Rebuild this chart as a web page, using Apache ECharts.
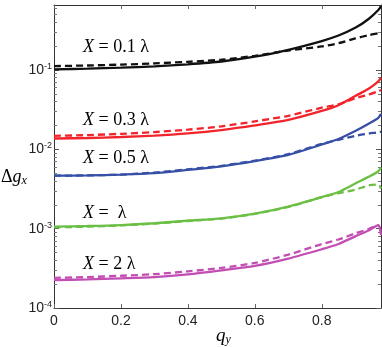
<!DOCTYPE html>
<html>
<head>
<meta charset="utf-8">
<script src="https://cdn.jsdelivr.net/npm/echarts@6/dist/echarts.min.js"></script>
<style>
  html, body { margin: 0; padding: 0; background: #fff; }
  #chart { width: 382px; height: 347px; }
</style>
</head>
<body>
<div id="chart"></div>
<script>
// q_y sample positions
const qy = [0, 0.1, 0.2, 0.3, 0.4, 0.5, 0.6, 0.7, 0.8, 0.85, 0.9, 0.94, 0.969, 0.977];

// X = 0.1 lambda
const g01Solid  = [0.102, 0.104, 0.107, 0.111, 0.118, 0.128, 0.147, 0.18, 0.232, 0.272, 0.34, 0.44, 0.57, 0.64];
const g01Dashed = [0.112, 0.114, 0.117, 0.121, 0.127, 0.135, 0.151, 0.176, 0.198, 0.218, 0.25, 0.275, 0.29, 0.295];
// X = 0.3 lambda
const g03Solid  = [0.0137, 0.0139, 0.0143, 0.0149, 0.0159, 0.0175, 0.02, 0.0235, 0.0305, 0.036, 0.047, 0.058, 0.072, 0.08];
const g03Dashed = [0.0148, 0.0151, 0.0157, 0.0165, 0.0177, 0.0195, 0.0225, 0.0265, 0.0335, 0.037, 0.044, 0.049, 0.054, 0.056];
// X = 0.5 lambda
const g05Solid  = [0.00465, 0.0047, 0.0048, 0.005, 0.0055, 0.0061, 0.0071, 0.0085, 0.0115, 0.0135, 0.017, 0.021, 0.025, 0.028];
const g05Dashed = [0.00465, 0.0047, 0.0048, 0.0051, 0.0056, 0.0062, 0.0072, 0.0087, 0.0117, 0.0132, 0.0148, 0.0158, 0.0164, 0.0167];
// X = lambda
const g1Solid   = [0.00106, 0.00108, 0.00111, 0.00117, 0.00126, 0.00135, 0.00155, 0.0019, 0.0025, 0.0029, 0.0037, 0.0045, 0.0053, 0.0059];
const g1Dashed  = [0.00104, 0.00106, 0.0011, 0.00116, 0.00125, 0.00134, 0.00154, 0.00188, 0.0025, 0.0028, 0.0031, 0.0035, 0.0036, 0.0032];
// X = 2 lambda
const g2Solid   = [0.000225, 0.000229, 0.000236, 0.000245, 0.000265, 0.000298, 0.00034, 0.00042, 0.00055, 0.00064, 0.0008, 0.00095, 0.00111, 0.00083];
const g2Dashed  = [0.00024, 0.000245, 0.000255, 0.000267, 0.00029, 0.00032, 0.00037, 0.00047, 0.00064, 0.00073, 0.00087, 0.00099, 0.0011, 0.0009];

const xTicks = [0, 0.2, 0.4, 0.6, 0.8];
const yMajor = [1e-4, 1e-3, 1e-2, 1e-1];

const yMinor = [];
yMajor.forEach((p) => {
  for (let m = 2; m <= 9; m++) {
    const v = +(m * p).toPrecision(3);
    if (v < 0.66) yMinor.push(v);
  }
});

const curves = [
  { solid: g01Solid, dashed: g01Dashed, color: "#111111" },
  { solid: g03Solid, dashed: g03Dashed, color: "#f2232b" },
  { solid: g05Solid, dashed: g05Dashed, color: "#3750a6" },
  { solid: g1Solid, dashed: g1Dashed, color: "#6cbf45" },
  { solid: g2Solid, dashed: g2Dashed, color: "#c24eb3" },
];

const labels = [
  { text: "0.1 λ", y: 48 },
  { text: "0.3 λ", y: 121 },
  { text: "0.5 λ", y: 159 },
  { text: " λ", y: 214 },
  { text: "2 λ", y: 265 },
];

const chart = echarts.init(document.getElementById("chart"));

const pairs = (vals) => qy.map((q, i) => [q, vals[i]]);

const series = [];
curves.forEach((c) => {
  ["solid", "dashed"].forEach((kind) => {
    series.push({
      type: "line",
      data: pairs(c[kind]),
      xAxisIndex: 0,
      yAxisIndex: 0,
      showSymbol: false,
      smooth: 0.25,
      silent: true,
      lineStyle: {
        color: c.color,
        width: 2.3,
        type: kind === "solid" ? "solid" : [7, 4],
      },
      z: kind === "solid" ? 3 : 4,
    });
  });
});

const frameColor = "#333";
const tickFont = { fontFamily: "Liberation Sans", fontSize: 14, color: "#222" };

const xBase = { type: "value", min: 0, max: 0.977, splitLine: { show: false } };
const yBase = { type: "log", logBase: 10, min: 1e-4, max: 0.66, splitLine: { show: false } };

const option = {
  animation: false,
  grid: { left: 54, right: 1, top: 5, bottom: 39 },
  xAxis: [
    {
      ...xBase,
      position: "bottom",
      axisLine: { show: true, lineStyle: { color: frameColor, width: 1 } },
      axisTick: { show: true, inside: true, length: 4, customValues: xTicks, lineStyle: { color: "#666" } },
      axisLabel: { ...tickFont, margin: 6, customValues: xTicks, formatter: (v) => String(v) },
    },
    {
      ...xBase,
      position: "top",
      axisLine: { show: true, lineStyle: { color: frameColor, width: 1 } },
      axisTick: { show: true, inside: true, length: 4, customValues: xTicks, lineStyle: { color: "#666" } },
      axisLabel: { show: false },
    },
  ],
  yAxis: [
    {
      ...yBase,
      position: "left",
      axisLine: { show: true, lineStyle: { color: frameColor, width: 1 } },
      axisTick: { show: true, inside: true, length: 5, customValues: yMajor, lineStyle: { color: "#555" } },
      axisLabel: {
        margin: 2,
        customValues: yMajor,
        formatter: (v) => "{b|10}{s|" + Math.round(Math.log10(v)) + "}",
        rich: {
          b: { ...tickFont, lineHeight: 16 },
          s: { fontFamily: "Liberation Sans", fontSize: 9, color: "#222", verticalAlign: "top", lineHeight: 16 },
        },
      },
    },
    {
      ...yBase,
      position: "left",
      axisLine: { show: false },
      axisTick: { show: true, inside: true, length: 3, customValues: yMinor, lineStyle: { color: "#777" } },
      axisLabel: { show: false },
    },
    {
      ...yBase,
      position: "right",
      axisLine: { show: true, lineStyle: { color: frameColor, width: 1 } },
      axisTick: { show: true, inside: true, length: 5, customValues: yMajor, lineStyle: { color: "#555" } },
      axisLabel: { show: false },
    },
    {
      ...yBase,
      position: "right",
      axisLine: { show: false },
      axisTick: { show: true, inside: true, length: 3, customValues: yMinor, lineStyle: { color: "#777" } },
      axisLabel: { show: false },
    },
  ],
  graphic: [
    ...labels.map((l) => ({
      type: "text",
      left: 83,
      top: l.y - 10,
      silent: true,
      style: {
        text: "{i|X} = " + l.text,
        font: "18px 'Liberation Serif'",
        fill: "#000",
        rich: {
          i: { fontFamily: "Liberation Serif", fontSize: 18, fontStyle: "italic", fill: "#000" },
        },
      },
    })),
    {
      type: "text",
      left: 1,
      top: 168,
      silent: true,
      style: {
        text: "Δ{i|g}{sub|x}",
        font: "18px 'Liberation Serif'",
        fill: "#000",
        rich: {
          i: { fontFamily: "Liberation Serif", fontSize: 18, fontStyle: "italic", fill: "#000" },
          sub: { fontFamily: "Liberation Serif", fontSize: 12, fontStyle: "italic", fill: "#000", verticalAlign: "bottom", padding: [8, 0, 0, 0] },
        },
      },
    },
    {
      type: "text",
      left: 216,
      top: 326,
      silent: true,
      style: {
        text: "{i|q}{sub|y}",
        rich: {
          i: { fontFamily: "Liberation Serif", fontSize: 19, fontStyle: "italic", fill: "#000" },
          sub: { fontFamily: "Liberation Serif", fontSize: 12, fontStyle: "italic", fill: "#000", verticalAlign: "bottom", padding: [8, 0, 0, 0] },
        },
      },
    },
  ],
  series: series,
};

chart.setOption(option);
</script>
</body>
</html>
